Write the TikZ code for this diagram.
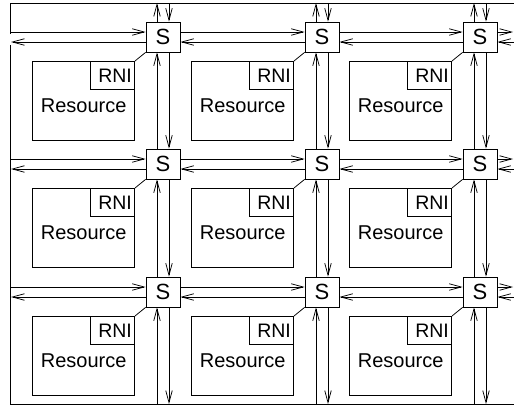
\documentclass[tikz,border=0pt]{standalone}
\usepackage{fontspec}
\setmainfont{Liberation Sans}
\usetikzlibrary{arrows.meta}
\begin{document}
\begin{tikzpicture}[x=1pt,y=-1pt,
  wire/.style={line width=0.75pt, draw=black},
  flow/.style={wire, -{Straight Barb[length=12pt,width=6.5pt,line width=0.75pt]}},
  switchbox/.style={draw, line width=0.75pt, minimum width=34pt, minimum height=30pt,
    inner sep=0pt, font=\fontsize{22}{26}\selectfont},
  resbox/.style={draw, line width=0.75pt, minimum width=102pt, minimum height=79pt, inner sep=0pt},
  nibox/.style={draw, line width=0.75pt, minimum width=44pt, minimum height=28pt, inner sep=0pt,
    font=\fontsize{19.5}{22}\selectfont},
  reslabel/.style={font=\fontsize{20}{24}\selectfont, inner sep=0pt, anchor=base}]
\useasboundingbox (0,0) rectangle (514,406);

% outer frame
\draw[wire] (514,3) -- (10,3) -- (10,34);
\draw[wire] (10,45) -- (10,404) -- (514,404);

% switches, resources and their network interfaces
\foreach \x [count=\j] in {163,322,480}{
  \foreach \y [count=\i] in {37,164,292}{
    \node[switchbox] (s\i\j) at (\x,\y) {S};
    \node[resbox, anchor=north east] (r\i\j) at (\x-28,\y+24) {};
    \node[nibox, anchor=north east] (n\i\j) at (r\i\j.north east) {\hspace*{5pt}RNI};
    \node[reslabel] (t\i\j) at ([yshift=-12pt]r\i\j.center) {Resource};
    \draw[wire] (n\i\j.north east) -- (s\i\j.south west);
  }
}

% free ends on the frame
\foreach \y [count=\i] in {37,164,292}{
  \coordinate (lu\i) at (10,\y-5);
  \coordinate (ll\i) at (11,\y+5);
  \coordinate (ru\i) at (513,\y-5);
  \coordinate (rl\i) at (514,\y+5);
}
\foreach \x [count=\j] in {163,322,480}{
  \coordinate (tu\j) at (\x-6,3);
  \coordinate (td\j) at (\x+6,3);
  \coordinate (bu\j) at (\x-6,404);
  \coordinate (bd\j) at (\x+6,404);
}

% horizontal links: upper wire eastbound, lower wire westbound
\foreach \i in {1,2,3}{
  \draw[flow] (lu\i) -- ([yshift=5pt]s\i1.west);
  \draw[flow] ([yshift=-5pt]s\i1.west) -- (ll\i);
  \foreach \j/\k in {1/2,2/3}{
    \draw[flow] ([yshift=5pt]s\i\j.east) -- ([yshift=5pt]s\i\k.west);
    \draw[flow] ([yshift=-5pt]s\i\k.west) -- ([yshift=-5pt]s\i\j.east);
  }
  \draw[flow] ([yshift=5pt]s\i3.east) -- (ru\i);
  \draw[flow] (rl\i) -- ([yshift=-5pt]s\i3.east);
}

% vertical links: left wire northbound, right wire southbound
\foreach \j in {1,2,3}{
  \draw[flow] ([xshift=-6pt]s1\j.north) -- (tu\j);
  \draw[flow] (td\j) -- ([xshift=6pt]s1\j.north);
  \foreach \i/\k in {1/2,2/3}{
    \draw[flow] ([xshift=-6pt]s\k\j.north) -- ([xshift=-6pt]s\i\j.south);
    \draw[flow] ([xshift=6pt]s\i\j.south) -- ([xshift=6pt]s\k\j.north);
  }
  \draw[flow] (bu\j) -- ([xshift=-6pt]s3\j.south);
  \draw[flow] ([xshift=6pt]s3\j.south) -- (bd\j);
}
\end{tikzpicture}
\end{document}
